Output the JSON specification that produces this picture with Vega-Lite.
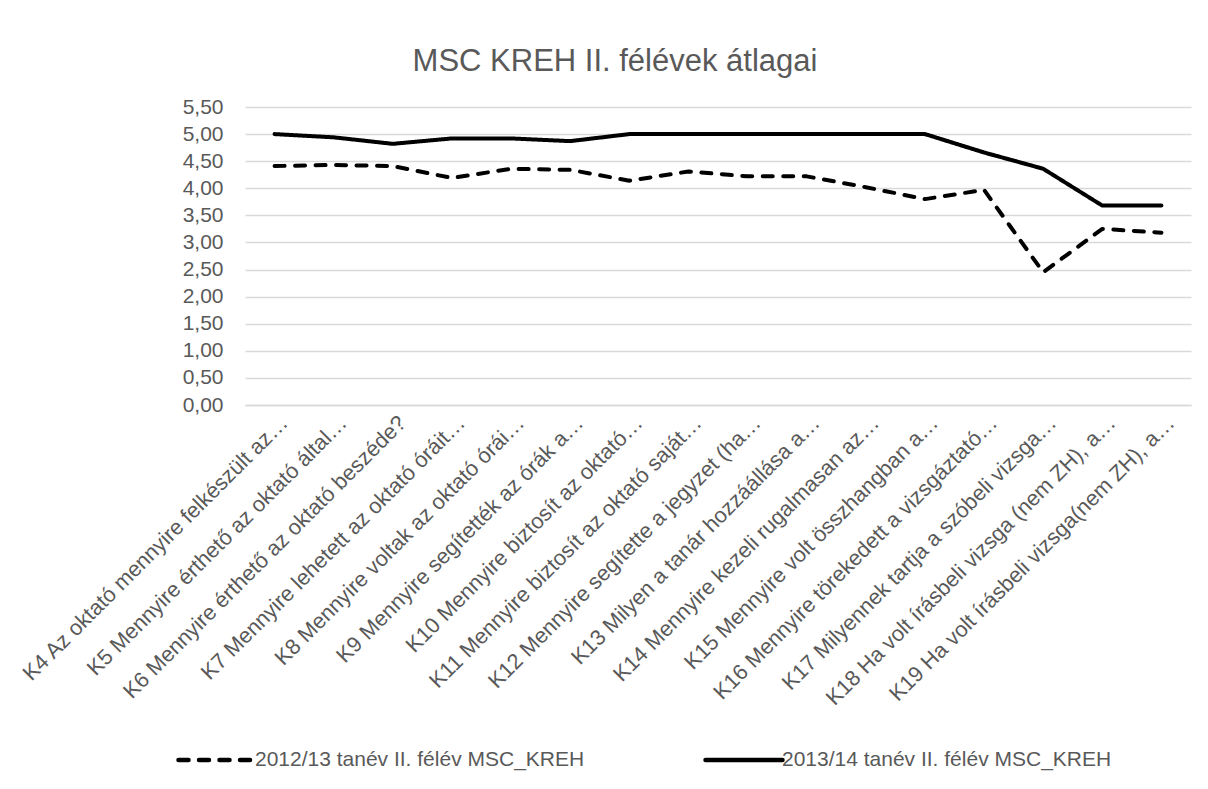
{
  "$schema": "https://vega.github.io/schema/vega-lite/v6.json",
  "width": 946,
  "height": 298,
  "autosize": {"type": "none"},
  "padding": {"left": 245, "top": 107, "right": 17, "bottom": 384},
  "background": "white",
  "title": {
    "text": "MSC KREH II. félévek átlagai",
    "fontSize": 31,
    "font": "Liberation Sans",
    "fontWeight": "normal",
    "color": "#595959",
    "offset": 18,
    "dx": -103
  },
  "data": {
    "values": [
      {"kerdes": "K4 Az oktató mennyire felkészült az…", "sorozat": "2012/13 tanév II. félév MSC_KREH", "ertek": 4.41},
      {"kerdes": "K5 Mennyire érthető az oktató által…", "sorozat": "2012/13 tanév II. félév MSC_KREH", "ertek": 4.43},
      {"kerdes": "K6 Mennyire érthető az oktató beszéde?", "sorozat": "2012/13 tanév II. félév MSC_KREH", "ertek": 4.41},
      {"kerdes": "K7 Mennyire lehetett  az oktató óráit…", "sorozat": "2012/13 tanév II. félév MSC_KREH", "ertek": 4.19},
      {"kerdes": "K8 Mennyire voltak az oktató órái…", "sorozat": "2012/13 tanév II. félév MSC_KREH", "ertek": 4.36},
      {"kerdes": "K9 Mennyire segítették  az órák a…", "sorozat": "2012/13 tanév II. félév MSC_KREH", "ertek": 4.34},
      {"kerdes": "K10 Mennyire biztosít az oktató…", "sorozat": "2012/13 tanév II. félév MSC_KREH", "ertek": 4.14},
      {"kerdes": "K11 Mennyire biztosít az oktató saját…", "sorozat": "2012/13 tanév II. félév MSC_KREH", "ertek": 4.31},
      {"kerdes": "K12 Mennyire segítette a jegyzet (ha…", "sorozat": "2012/13 tanév II. félév MSC_KREH", "ertek": 4.22},
      {"kerdes": "K13 Milyen a tanár hozzáállása a…", "sorozat": "2012/13 tanév II. félév MSC_KREH", "ertek": 4.22},
      {"kerdes": "K14 Mennyire kezeli rugalmasan az…", "sorozat": "2012/13 tanév II. félév MSC_KREH", "ertek": 4.02},
      {"kerdes": "K15 Mennyire volt összhangban a…", "sorozat": "2012/13 tanév II. félév MSC_KREH", "ertek": 3.80},
      {"kerdes": "K16 Mennyire törekedett a vizsgáztató…", "sorozat": "2012/13 tanév II. félév MSC_KREH", "ertek": 3.97},
      {"kerdes": "K17 Milyennek tartja a szóbeli vizsga…", "sorozat": "2012/13 tanév II. félév MSC_KREH", "ertek": 2.45},
      {"kerdes": "K18 Ha volt írásbeli vizsga (nem ZH), a…", "sorozat": "2012/13 tanév II. félév MSC_KREH", "ertek": 3.25},
      {"kerdes": "K19 Ha volt írásbeli vizsga(nem ZH), a…", "sorozat": "2012/13 tanév II. félév MSC_KREH", "ertek": 3.18},
      {"kerdes": "K4 Az oktató mennyire felkészült az…", "sorozat": "2013/14 tanév II. félév MSC_KREH", "ertek": 5.00},
      {"kerdes": "K5 Mennyire érthető az oktató által…", "sorozat": "2013/14 tanév II. félév MSC_KREH", "ertek": 4.94},
      {"kerdes": "K6 Mennyire érthető az oktató beszéde?", "sorozat": "2013/14 tanév II. félév MSC_KREH", "ertek": 4.82},
      {"kerdes": "K7 Mennyire lehetett  az oktató óráit…", "sorozat": "2013/14 tanév II. félév MSC_KREH", "ertek": 4.92},
      {"kerdes": "K8 Mennyire voltak az oktató órái…", "sorozat": "2013/14 tanév II. félév MSC_KREH", "ertek": 4.92},
      {"kerdes": "K9 Mennyire segítették  az órák a…", "sorozat": "2013/14 tanév II. félév MSC_KREH", "ertek": 4.87},
      {"kerdes": "K10 Mennyire biztosít az oktató…", "sorozat": "2013/14 tanév II. félév MSC_KREH", "ertek": 5.00},
      {"kerdes": "K11 Mennyire biztosít az oktató saját…", "sorozat": "2013/14 tanév II. félév MSC_KREH", "ertek": 5.00},
      {"kerdes": "K12 Mennyire segítette a jegyzet (ha…", "sorozat": "2013/14 tanév II. félév MSC_KREH", "ertek": 5.00},
      {"kerdes": "K13 Milyen a tanár hozzáállása a…", "sorozat": "2013/14 tanév II. félév MSC_KREH", "ertek": 5.00},
      {"kerdes": "K14 Mennyire kezeli rugalmasan az…", "sorozat": "2013/14 tanév II. félév MSC_KREH", "ertek": 5.00},
      {"kerdes": "K15 Mennyire volt összhangban a…", "sorozat": "2013/14 tanév II. félév MSC_KREH", "ertek": 5.00},
      {"kerdes": "K16 Mennyire törekedett a vizsgáztató…", "sorozat": "2013/14 tanév II. félév MSC_KREH", "ertek": 4.66},
      {"kerdes": "K17 Milyennek tartja a szóbeli vizsga…", "sorozat": "2013/14 tanév II. félév MSC_KREH", "ertek": 4.36},
      {"kerdes": "K18 Ha volt írásbeli vizsga (nem ZH), a…", "sorozat": "2013/14 tanév II. félév MSC_KREH", "ertek": 3.68},
      {"kerdes": "K19 Ha volt írásbeli vizsga(nem ZH), a…", "sorozat": "2013/14 tanév II. félév MSC_KREH", "ertek": 3.68}
    ]
  },
  "mark": {"type": "line", "strokeWidth": 4, "strokeCap": "round", "strokeJoin": "round", "color": "black"},
  "encoding": {
    "x": {
      "field": "kerdes",
      "type": "nominal",
      "sort": null,
      "scale": {"padding": 0.5},
      "axis": {
        "title": null,
        "labelAngle": -45,
        "labelAlign": "right",
        "labelBaseline": "middle",
        "labelPadding": 14,
        "labelOffset": 9,
        "labelLimit": 600,
        "labelFontSize": 21.7,
        "ticks": false,
        "tickSize": 0,
        "domain": true,
        "domainColor": "#d9d9d9",
        "domainWidth": 1.3,
        "grid": false
      }
    },
    "y": {
      "field": "ertek",
      "type": "quantitative",
      "scale": {"domain": [0, 5.5], "nice": false},
      "axis": {
        "title": null,
        "values": [0, 0.5, 1, 1.5, 2, 2.5, 3, 3.5, 4, 4.5, 5, 5.5],
        "labelExpr": "replace(format(datum.value, '.2f'), '.', ',')",
        "labelFontSize": 21,
        "labelPadding": 22,
        "ticks": false,
        "tickSize": 0,
        "domain": false,
        "grid": true,
        "gridColor": "#d9d9d9",
        "gridWidth": 1.3
      }
    },
    "strokeDash": {
      "field": "sorozat",
      "type": "nominal",
      "scale": {
        "domain": ["2012/13 tanév II. félév MSC_KREH", "2013/14 tanév II. félév MSC_KREH"],
        "range": [[10, 10.5], [1, 0]]
      },
      "legend": {
        "title": null,
        "orient": "none",
        "legendX": -69,
        "legendY": 612,
        "direction": "horizontal",
        "symbolType": "stroke",
        "symbolSize": 5929,
        "symbolStrokeWidth": 4.5,
        "symbolStrokeColor": "black",
        "labelFontSize": 21,
        "labelFont": "Liberation Sans",
        "labelColor": "#595959",
        "labelOffset": -3,
        "columnPadding": 111,
        "labelLimit": 600,
        "encode": {"symbols": {"update": {"strokeCap": {"value": "round"}}}}
      }
    }
  },
  "config": {
    "view": {"stroke": null},
    "axis": {"labelFont": "Liberation Sans", "labelColor": "#595959"}
  }
}
